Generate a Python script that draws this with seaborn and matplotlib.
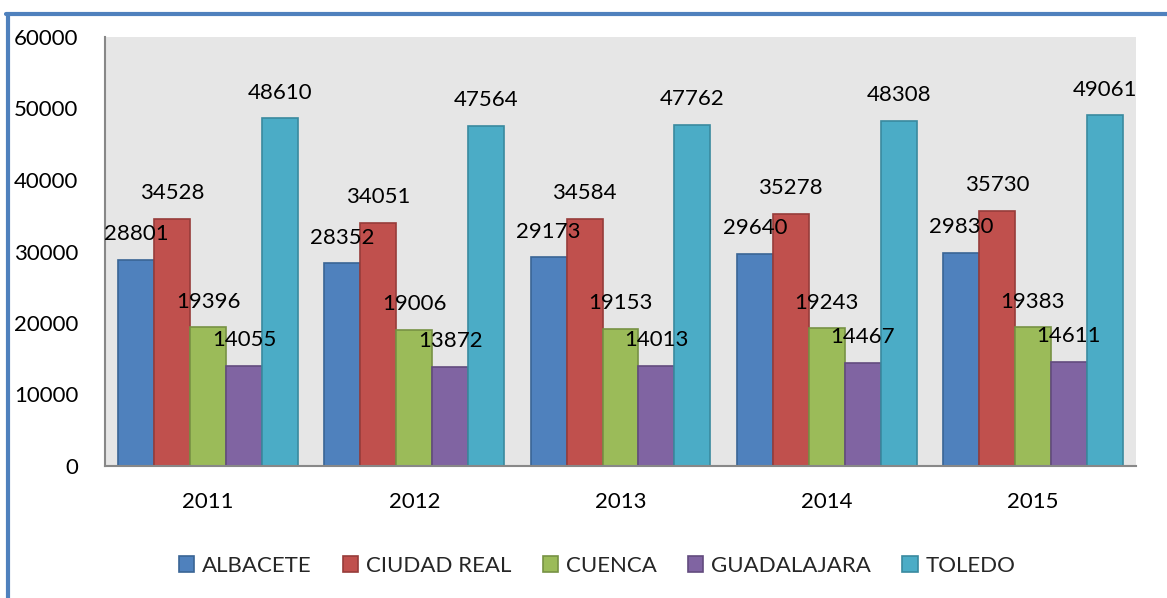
import matplotlib
matplotlib.use('Agg')
import matplotlib.pyplot as plt
from matplotlib.lines import Line2D
import pandas as pd
import seaborn as sns

years = ['2011', '2012', '2013', '2014', '2015']
albacete = [28801, 28352, 29173, 29640, 29830]
ciudad_real = [34528, 34051, 34584, 35278, 35730]
cuenca = [19396, 19006, 19153, 19243, 19383]
guadalajara = [14055, 13872, 14013, 14467, 14611]
toledo = [48610, 47564, 47762, 48308, 49061]

provinces = ['ALBACETE', 'CIUDAD REAL', 'CUENCA', 'GUADALAJARA', 'TOLEDO']
colors = ['#4f81bd', '#c0504d', '#9bbb59', '#8064a2', '#4bacc6']
edges = ['#3a6595', '#973c3a', '#779244', '#624b7e', '#3a8a9f']

series = [albacete, ciudad_real, cuenca, guadalajara, toledo]
rows = []
for prov, vals in zip(provinces, series):
    for y, v in zip(years, vals):
        rows.append({'year': y, 'province': prov, 'value': v})
df = pd.DataFrame(rows)

sns.set_style('white')
plt.rcParams['font.family'] = ['Lato', 'DejaVu Sans']

fig = plt.figure(figsize=(11.67, 5.98), dpi=100)
ax = fig.add_axes([105 / 1167, 1 - 466 / 598, (1136 - 105) / 1167, (466 - 37) / 598])
ax.set_facecolor('#e6e6e6')

sns.barplot(data=df, x='year', y='value', hue='province', hue_order=provinces,
            palette=colors, width=0.872, gap=0, ax=ax, legend=False, errorbar=None,
            saturation=1)

# value labels above each bar
for cont, ec in zip(ax.containers, edges):
    for bar in cont:
        bar.set_edgecolor(ec)
        bar.set_linewidth(1.2)
        h = bar.get_height()
        ax.annotate(f'{int(h)}', (bar.get_x() + bar.get_width() / 2, h),
                    xytext=(0, 18.5), textcoords='offset points',
                    ha='center', va='center', fontsize=16, color='black')

ax.set_ylim(0, 60000)
ax.set_yticks(range(0, 60001, 10000))
ax.set_xlim(-0.5, 4.5)
ax.set_xlabel('')
ax.set_ylabel('')
ax.tick_params(axis='both', length=0, labelsize=16, colors='black')
ax.tick_params(axis='y', pad=19)
ax.tick_params(axis='x', pad=19)
for s in ['top', 'right']:
    ax.spines[s].set_visible(False)
for s in ['left', 'bottom']:
    ax.spines[s].set_color('#888888')
    ax.spines[s].set_linewidth(1.5)

handles = [plt.Rectangle((0, 0), 1, 1, facecolor=c, edgecolor=e, linewidth=1.2)
           for c, e in zip(colors, edges)]
fig.legend(handles, provinces, loc='center', bbox_to_anchor=(597 / 1167, 1 - 566 / 598),
           ncol=5, frameon=False, fontsize=16, handlelength=0.7, handleheight=0.7,
           handletextpad=0.35, columnspacing=1.4)

# blue frame (left and top edges of the chart box)
fig.add_artist(Line2D([7.5 / 1167, 7.5 / 1167], [0, 1 - 14 / 598],
                      transform=fig.transFigure, color='#4f81bd', linewidth=3))
fig.add_artist(Line2D([6 / 1167, 1], [1 - 14 / 598, 1 - 14 / 598],
                      transform=fig.transFigure, color='#4f81bd', linewidth=3))

fig.savefig('out.png', dpi=100)
